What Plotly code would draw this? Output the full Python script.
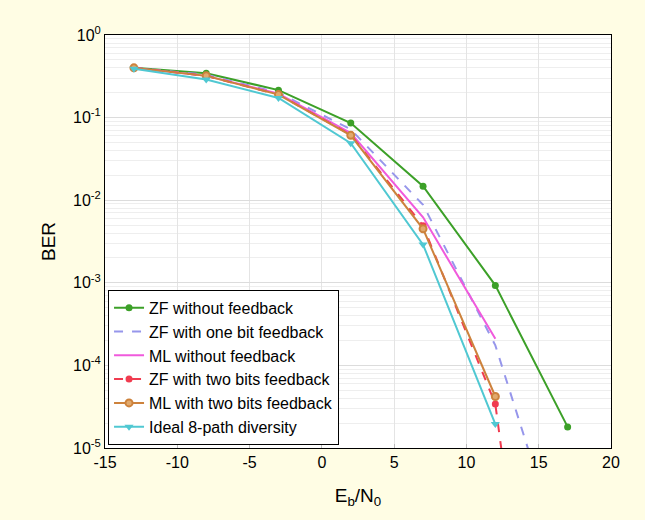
import plotly.graph_objects as go

x_full = [-13, -8, -3, 2, 7, 12, 17]
x_short = [-13, -8, -3, 2, 7, 12]

zf_no_fb = [0.40, 0.345, 0.215, 0.086, 0.0148, 9.3e-4, 1.8e-5]
zf_one_bit = [0.40, 0.33, 0.20, 0.072, 0.0088, 1.75e-4, 3e-7]
ml_no_fb = [0.40, 0.32, 0.195, 0.065, 0.0062, 2.1e-4]
zf_two_bits = [0.40, 0.32, 0.19, 0.062, 0.0049, 3.4e-5, 1e-11]
ml_two_bits = [0.40, 0.32, 0.19, 0.061, 0.0045, 4.2e-5]
ideal_8path = [0.39, 0.29, 0.173, 0.049, 0.0029, 1.95e-5]

y_tickvals = [1, 1e-1, 1e-2, 1e-3, 1e-4, 1e-5]
y_ticktext = ["10<sup>0</sup>", "10<sup>-1</sup>", "10<sup>-2</sup>",
              "10<sup>-3</sup>", "10<sup>-4</sup>", "10<sup>-5</sup>"]
x_tickvals = [-15, -10, -5, 0, 5, 10, 15, 20]
x_ticktext = ["-15", "-10", "-5", "0", "5", "10", "15", "20"]

fig = go.Figure()
fig.add_trace(go.Scatter(x=x_full, y=zf_no_fb, name="ZF without feedback",
                         mode="lines+markers",
                         line=dict(color="rgb(60,160,40)", width=2),
                         marker=dict(symbol="circle", size=7, color="rgb(60,160,40)")))
fig.add_trace(go.Scatter(x=x_full, y=zf_one_bit, name="ZF with one bit feedback",
                         mode="lines",
                         line=dict(color="rgb(150,150,235)", width=2, dash="dash")))
fig.add_trace(go.Scatter(x=x_short, y=ml_no_fb, name="ML without feedback",
                         mode="lines",
                         line=dict(color="rgb(240,90,220)", width=2)))
fig.add_trace(go.Scatter(x=x_full, y=zf_two_bits, name="ZF with two bits feedback",
                         mode="lines+markers",
                         line=dict(color="rgb(240,60,80)", width=2, dash="dash"),
                         marker=dict(symbol="circle", size=7, color="rgb(240,60,80)")))
fig.add_trace(go.Scatter(x=x_short, y=ml_two_bits, name="ML with two bits feedback",
                         mode="lines+markers",
                         line=dict(color="rgb(205,130,60)", width=2),
                         marker=dict(symbol="circle", size=7, color="rgb(225,170,110)",
                                     line=dict(color="rgb(205,130,60)", width=2))))
fig.add_trace(go.Scatter(x=x_short, y=ideal_8path, name="Ideal 8-path diversity",
                         mode="lines+markers",
                         line=dict(color="rgb(80,200,210)", width=2),
                         marker=dict(symbol="triangle-down", size=8, color="rgb(80,200,210)")))

font = dict(family="Liberation Sans, Arial, sans-serif", size=16, color="black")

fig.update_layout(
    width=645, height=520,
    paper_bgcolor="#FFFDE4",
    plot_bgcolor="white",
    margin=dict(l=105, r=34, t=35, b=72),
    font=font,
    showlegend=True,
    legend=dict(x=0.006, y=0.383, xanchor="left", yanchor="top",
                bgcolor="white", bordercolor="black", borderwidth=1,
                font=dict(family="Liberation Sans, Arial, sans-serif", size=16),
                itemwidth=30, tracegroupgap=0),
    xaxis=dict(range=[-15, 20], tickvals=x_tickvals, ticktext=x_ticktext, showgrid=True,
               gridcolor="#e4e4e4", zeroline=False, showline=True,
               linecolor="black", linewidth=1, mirror=True,
               ticks="inside", ticklen=4, tickcolor="#bbbbbb",
               title=dict(text="E<sub>b</sub>/N<sub>0</sub>", standoff=18)),
    yaxis=dict(type="log", range=[-5, 0], tickvals=y_tickvals, ticktext=y_ticktext,
               showgrid=True, gridcolor="#dcdcdc", zeroline=False, showline=True,
               linecolor="black", linewidth=1, mirror=True,
               ticks="", title=dict(text="BER", standoff=12),
               minor=dict(dtick="D1", showgrid=True, gridcolor="#eeeeee", ticks="")),
)

fig.write_html("out.html")
